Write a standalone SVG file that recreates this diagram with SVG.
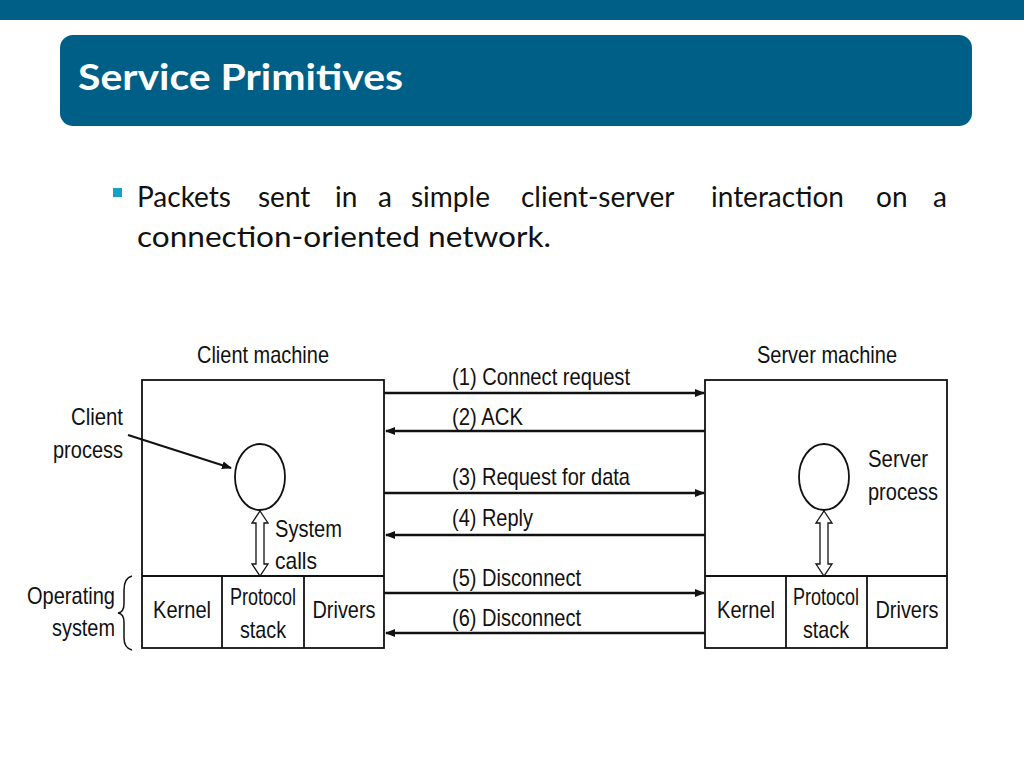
<svg xmlns="http://www.w3.org/2000/svg" width="1024" height="768" viewBox="0 0 1024 768">
<style>
.t{font-family:"Liberation Sans",Arial,sans-serif;font-size:24px;fill:#111}
.p{font-family:Lato,"Open Sans",sans-serif;font-size:28px;fill:#111}
.b{fill:none;stroke:#111;stroke-width:1.8}
.c{stroke:#111;stroke-width:2.5}
</style>
<defs>
<marker id="ah" markerWidth="10" markerHeight="8" refX="9" refY="4" orient="auto" markerUnits="userSpaceOnUse"><path d="M0,0 L10,4 L0,8 Z" fill="#111"/></marker>
</defs>
<rect width="1024" height="768" fill="#fff"/>
<rect width="1024" height="20" fill="#005f87"/>
<rect x="60" y="35" width="912" height="91" rx="13" fill="#005f87"/>
<text x="78" y="90" style="font-family:Lato,'Open Sans',sans-serif;font-size:37px;font-weight:bold;fill:#fff" textLength="325" lengthAdjust="spacingAndGlyphs">Service Primitives</text>
<rect x="113" y="188" width="9" height="9" fill="#1aa0c8"/>
<text class="p" y="207"><tspan x="137">Packets</tspan><tspan x="258">sent</tspan><tspan x="335">in</tspan><tspan x="378">a</tspan><tspan x="411">simple</tspan><tspan x="521">client-server</tspan><tspan x="711">interaction</tspan><tspan x="876">on</tspan><tspan x="933">a</tspan></text>
<text class="p" x="137" y="247" textLength="414" lengthAdjust="spacingAndGlyphs">connection-oriented network.</text>

<g id="client">
<text class="t" x="263" y="363" text-anchor="middle" textLength="132" lengthAdjust="spacingAndGlyphs">Client machine</text>
<rect class="b" x="142" y="380" width="242" height="268"/>
<line class="b" x1="142" y1="576" x2="384" y2="576"/>
<line class="b" x1="222" y1="576" x2="222" y2="648"/>
<line class="b" x1="304" y1="576" x2="304" y2="648"/>
<ellipse class="b" cx="260" cy="477" rx="25" ry="33"/>
<path class="b" d="M260,511 L268,523 L264,523 L264,564 L268,564 L260,576 L252,564 L256,564 L256,523 L252,523 Z" style="fill:#fff;stroke-width:1.3"/>
<text class="t" x="275" y="537" textLength="67" lengthAdjust="spacingAndGlyphs">System</text>
<text class="t" x="275" y="569" textLength="42" lengthAdjust="spacingAndGlyphs">calls</text>
<text class="t" x="182" y="618" text-anchor="middle" textLength="58" lengthAdjust="spacingAndGlyphs">Kernel</text>
<text class="t" x="263" y="605" text-anchor="middle" textLength="66" lengthAdjust="spacingAndGlyphs">Protocol</text>
<text class="t" x="263" y="638" text-anchor="middle" textLength="46" lengthAdjust="spacingAndGlyphs">stack</text>
<text class="t" x="344" y="618" text-anchor="middle" textLength="63" lengthAdjust="spacingAndGlyphs">Drivers</text>
</g>
<g id="labels">
<text class="t" x="123" y="425" text-anchor="end" textLength="52" lengthAdjust="spacingAndGlyphs">Client</text>
<text class="t" x="123" y="458" text-anchor="end" textLength="70" lengthAdjust="spacingAndGlyphs">process</text>
<line x1="128" y1="435" x2="231" y2="468" stroke="#111" stroke-width="2" marker-end="url(#ah)"/>
<text class="t" x="115" y="604" text-anchor="end" textLength="88" lengthAdjust="spacingAndGlyphs">Operating</text>
<text class="t" x="115" y="636" text-anchor="end" textLength="63" lengthAdjust="spacingAndGlyphs">system</text>
<path d="M132,576 Q124,578 124,590 L124,604 Q124,612 118,613 Q124,614 124,622 L124,638 Q124,648 132,650" fill="none" stroke="#111" stroke-width="1.5"/>
</g>
<g id="server">
<text class="t" x="827" y="363" text-anchor="middle" textLength="140" lengthAdjust="spacingAndGlyphs">Server machine</text>
<rect class="b" x="705" y="380" width="242" height="268"/>
<line class="b" x1="705" y1="576" x2="947" y2="576"/>
<line class="b" x1="786" y1="576" x2="786" y2="648"/>
<line class="b" x1="867" y1="576" x2="867" y2="648"/>
<ellipse class="b" cx="824" cy="477" rx="25" ry="33"/>
<path class="b" d="M824,511 L832,523 L828,523 L828,564 L832,564 L824,576 L816,564 L820,564 L820,523 L816,523 Z" style="fill:#fff;stroke-width:1.3"/>
<text class="t" x="868" y="467" textLength="60" lengthAdjust="spacingAndGlyphs">Server</text>
<text class="t" x="868" y="500" textLength="70" lengthAdjust="spacingAndGlyphs">process</text>
<text class="t" x="746" y="618" text-anchor="middle" textLength="58" lengthAdjust="spacingAndGlyphs">Kernel</text>
<text class="t" x="826" y="605" text-anchor="middle" textLength="66" lengthAdjust="spacingAndGlyphs">Protocol</text>
<text class="t" x="826" y="638" text-anchor="middle" textLength="46" lengthAdjust="spacingAndGlyphs">stack</text>
<text class="t" x="907" y="618" text-anchor="middle" textLength="63" lengthAdjust="spacingAndGlyphs">Drivers</text>
</g>
<g id="connectors">
<line class="c" x1="384" y1="393" x2="704" y2="393" marker-end="url(#ah)"/>
<line class="c" x1="705" y1="431" x2="386" y2="431" marker-end="url(#ah)"/>
<line class="c" x1="384" y1="493" x2="704" y2="493" marker-end="url(#ah)"/>
<line class="c" x1="705" y1="535" x2="386" y2="535" marker-end="url(#ah)"/>
<line class="c" x1="384" y1="593" x2="704" y2="593" marker-end="url(#ah)"/>
<line class="c" x1="705" y1="633" x2="386" y2="633" marker-end="url(#ah)"/>
<text class="t" x="452" y="385" textLength="178" lengthAdjust="spacingAndGlyphs">(1) Connect request</text>
<text class="t" x="452" y="425" textLength="71" lengthAdjust="spacingAndGlyphs">(2) ACK</text>
<text class="t" x="452" y="485" textLength="178" lengthAdjust="spacingAndGlyphs">(3) Request for data</text>
<text class="t" x="452" y="526" textLength="81" lengthAdjust="spacingAndGlyphs">(4) Reply</text>
<text class="t" x="452" y="586" textLength="129" lengthAdjust="spacingAndGlyphs">(5) Disconnect</text>
<text class="t" x="452" y="626" textLength="129" lengthAdjust="spacingAndGlyphs">(6) Disconnect</text>
</g>
</svg>
